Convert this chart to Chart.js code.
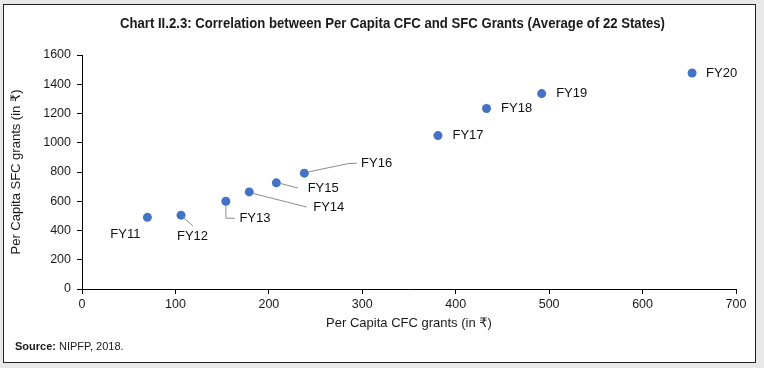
<!DOCTYPE html>
<html>
<head>
<meta charset="utf-8">
<script src="https://cdn.jsdelivr.net/npm/chart.js@4/dist/chart.umd.min.js"></script>
<style>
  html, body { margin: 0; padding: 0; background: #e8e8e8; }
  #wrap { position: relative; width: 764px; height: 368px; }
</style>
</head>
<body>
<div id="wrap"><canvas id="c" width="764" height="368"></canvas></div>
<script>
// ---- Data ----
const categories = ['FY11', 'FY12', 'FY13', 'FY14', 'FY15', 'FY16', 'FY17', 'FY18', 'FY19', 'FY20'];
const cfcGrants = [70, 106, 154, 179, 208, 238, 381, 433, 492, 653];
const sfcGrants = [490, 505, 600, 664, 726, 792, 1049, 1234, 1336, 1477];
const xTicks = [0, 100, 200, 300, 400, 500, 600, 700];
const yTicks = [0, 200, 400, 600, 800, 1000, 1200, 1400, 1600];
const chartTitle = 'Chart II.2.3: Correlation between Per Capita CFC and SFC Grants (Average of 22 States)';
const xTitle = 'Per Capita CFC grants (in ₹)';
const yTitle = 'Per Capita SFC grants (in ₹)';
const sourceLabel = 'Source:';
const sourceText = ' NIPFP, 2018.';

// ---- Label placement (pixel offsets from each point; layout only) ----
const labelPlacement = {
  FY11: { dx: -22, dy: 17, align: 'center' },
  FY12: { dx: 11.5, dy: 21, align: 'center', leader: [[2, 2], [12, 11]] },
  FY13: { dx: 13.5, dy: 17, align: 'left', leader: [[0, 4], [0, 17], [9, 17]] },
  FY14: { dx: 64, dy: 15.6, align: 'left', leader: [[4, 1.6], [57.5, 15.2]] },
  FY15: { dx: 31.3, dy: 5.6, align: 'left', leader: [[4, 0.6], [21.5, 5.2]] },
  FY16: { dx: 56.7, dy: -9.7, align: 'left', leader: [[4, -1.3], [44, -9.6], [52.5, -9.9]] },
  FY17: { dx: 14.5, dy: 0, align: 'left' },
  FY18: { dx: 14.5, dy: 0, align: 'left' },
  FY19: { dx: 14.5, dy: 0, align: 'left' },
  FY20: { dx: 14, dy: 0, align: 'left' }
};

const FONT = "'Liberation Sans', Arial, 'DejaVu Sans', sans-serif";
const NARROW = "'Liberation Sans Narrow', 'Liberation Sans', Arial, sans-serif";

const framePlugin = {
  id: 'frame',
  beforeDraw(chart) {
    const ctx = chart.ctx;
    ctx.save();
    ctx.fillStyle = '#e8e8e8';
    ctx.fillRect(0, 0, chart.width, chart.height);
    ctx.fillStyle = '#ffffff';
    ctx.fillRect(3.5, 4.5, 752, 358);
    ctx.strokeStyle = '#222';
    ctx.lineWidth = 1;
    ctx.strokeRect(3.5, 4.5, 752, 358);
    ctx.restore();
  },
  afterDraw(chart) {
    const ctx = chart.ctx;
    ctx.save();
    // Title (condensed bold)
    ctx.font = "bold 14px " + NARROW;
    ctx.fillStyle = '#1a1a1a';
    ctx.textBaseline = 'middle';
    ctx.textAlign = 'center';
    const w = ctx.measureText(chartTitle).width;
    const targetW = 545;
    const sx = Math.min(1.2, targetW / w);
    ctx.translate(392.5, 24);
    ctx.scale(sx, 1);
    ctx.fillText(chartTitle, 0, 0);
    ctx.restore();

    // Source
    ctx.save();
    ctx.textBaseline = 'middle';
    ctx.textAlign = 'left';
    ctx.fillStyle = '#1a1a1a';
    ctx.font = "bold 11px " + NARROW;
    ctx.fillText(sourceLabel, 15, 347);
    const sw = ctx.measureText(sourceLabel).width;
    ctx.font = "11px " + NARROW;
    ctx.fillText(sourceText, 15 + sw, 347);
    ctx.restore();
  },
  afterDatasetsDraw(chart) {
    const ctx = chart.ctx;
    const meta = chart.getDatasetMeta(0);
    ctx.save();
    ctx.font = "13px " + FONT;
    ctx.fillStyle = '#111';
    ctx.textBaseline = 'middle';
    meta.data.forEach((pt, i) => {
      const name = categories[i];
      const p = labelPlacement[name];
      const x = pt.x, y = pt.y;
      if (p.leader) {
        ctx.beginPath();
        ctx.strokeStyle = '#8c8c8c';
        ctx.lineWidth = 1;
        p.leader.forEach((q, k) => {
          if (k === 0) ctx.moveTo(x + q[0], y + q[1]);
          else ctx.lineTo(x + q[0], y + q[1]);
        });
        ctx.stroke();
      }
      ctx.textAlign = p.align;
      ctx.fillText(name, x + p.dx, y + p.dy);
    });
    ctx.restore();
  }
};

new Chart(document.getElementById('c'), {
  type: 'scatter',
  data: {
    datasets: [{
      label: 'Per Capita CFC vs SFC',
      data: cfcGrants.map((v, i) => ({ x: v, y: sfcGrants[i] })),
      backgroundColor: '#4472C4',
      borderWidth: 0,
      pointRadius: 4.5,
      pointHoverRadius: 4.5
    }]
  },
  options: {
    responsive: false,
    animation: false,
    events: [],
    layout: { padding: { left: 0, top: 55, right: 28, bottom: 0 } },
    plugins: {
      legend: { display: false },
      tooltip: { enabled: false },
      title: { display: false }
    },
    scales: {
      x: {
        type: 'linear',
        min: 0, max: 700,
        afterBuildTicks: s => { s.ticks = xTicks.map(v => ({ value: v })); },
        afterFit: s => { s.height = 79; },
        ticks: { color: '#1a1a1a', font: { family: FONT, size: 12.5 }, padding: 3, maxRotation: 0, callback: v => String(v) },
        grid: { drawOnChartArea: false, drawTicks: true, tickLength: 5, color: '#000' },
        border: { display: true, color: '#000', width: 1 },
        title: { display: true, text: xTitle, color: '#1a1a1a', font: { family: FONT, size: 13 }, padding: { top: 0, bottom: 37 } }
      },
      y: {
        type: 'linear',
        min: 0, max: 1600,
        afterBuildTicks: s => { s.ticks = yTicks.map(v => ({ value: v })); },
        afterFit: s => { s.width = 82; },
        ticks: { color: '#1a1a1a', font: { family: FONT, size: 12.5 }, padding: 6, callback: v => String(v) },
        grid: { drawOnChartArea: false, drawTicks: true, tickLength: 5, color: '#000' },
        border: { display: true, color: '#000', width: 1 },
        title: { display: true, text: yTitle, color: '#1a1a1a', font: { family: FONT, size: 13 }, padding: { top: 9, bottom: 0 } }
      }
    }
  },
  plugins: [framePlugin]
});
</script>
</body>
</html>
